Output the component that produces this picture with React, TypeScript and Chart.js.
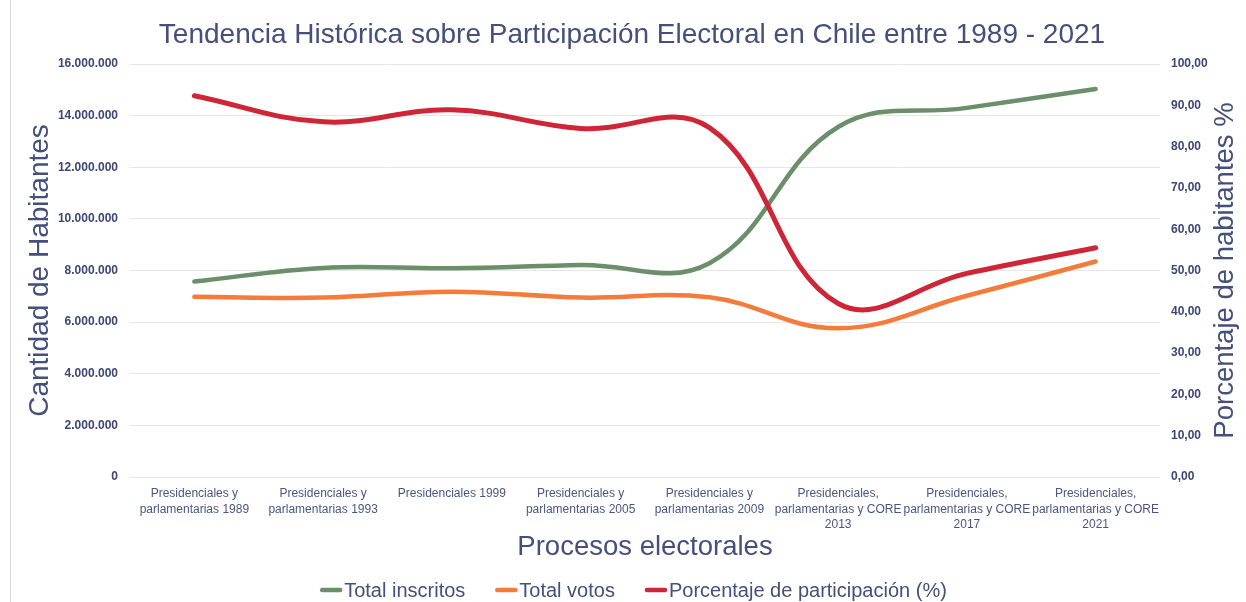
import React, { useEffect, useRef } from 'react';
import { Chart, registerables } from 'chart.js';

Chart.register(...registerables);

const categories: (string | string[])[] = [
  ['Presidenciales y', 'parlamentarias 1989'],
  ['Presidenciales y', 'parlamentarias 1993'],
  'Presidenciales 1999',
  ['Presidenciales y', 'parlamentarias 2005'],
  ['Presidenciales y', 'parlamentarias 2009'],
  ['Presidenciales,', 'parlamentarias y CORE', '2013'],
  ['Presidenciales,', 'parlamentarias y CORE', '2017'],
  ['Presidenciales,', 'parlamentarias y CORE', '2021'],
];

const totalInscritos = [7570000, 8100000, 8085000, 8215000, 8285000, 13560000, 14300000, 15030000];
const totalVotos = [6980000, 6950000, 7180000, 6950000, 6960000, 5760000, 7020000, 8350000];
const porcentajeParticipacion = [92.3, 86.0, 88.9, 84.4, 84.6, 42.0, 49.3, 55.5];

const leftAxisMin = 0;
const leftAxisMax = 16000000;
const leftAxisStep = 2000000;
const rightAxisMin = 0;
const rightAxisMax = 100;
const rightAxisStep = 10;

const seriesLabels = ['Total inscritos', 'Total votos', 'Porcentaje de participación (%)'];
const seriesColors = ['#6b8e6b', '#f47b3a', '#cf2637'];

const chartTitle = 'Tendencia Histórica sobre Participación Electoral en Chile entre 1989 - 2021';
const leftTitle = 'Cantidad de Habitantes';
const rightTitle = 'Porcentaje de habitantes %';
const xTitle = 'Procesos electorales';

const FONT = '"Liberation Sans", Arial, Helvetica, sans-serif';
const TEXT = '#444f7c';
const TICK = '#3d4677';

const fmtThousands = (v: number) => String(Math.round(v)).replace(/\B(?=(\d{3})+(?!\d))/g, '.');
const fmtPct = (v: number) => v.toFixed(2).replace('.', ',');

const rightTitlePlugin = {
  id: 'rightTitle',
  afterDraw(chart: any) {
    const { ctx, chartArea } = chart;
    ctx.save();
    ctx.translate(1225, (chartArea.top + chartArea.bottom) / 2);
    ctx.rotate(-Math.PI / 2);
    ctx.font = `27.5px ${FONT}`;
    ctx.fillStyle = TEXT;
    ctx.textAlign = 'center';
    ctx.textBaseline = 'middle';
    ctx.fillText(rightTitle, 0, 0);
    ctx.restore();
  },
};

const legendPlugin = {
  id: 'customLegend',
  afterDraw(chart: any) {
    const { ctx } = chart;
    ctx.save();
    ctx.font = `20px ${FONT}`;
    const markerW = 22;
    const gap = 2;
    const spacing = 30;
    const items = chart.data.datasets.map((ds: any) => ({ text: ds.label, color: ds.borderColor }));
    const widths = items.map((it: any) => markerW + gap + ctx.measureText(it.text).width);
    const total = widths.reduce((a: number, b: number) => a + b, 0) + spacing * (items.length - 1);
    let x = 633.5 - total / 2;
    const y = 590;
    items.forEach((it: any, i: number) => {
      ctx.strokeStyle = it.color;
      ctx.lineWidth = 4.5;
      ctx.lineCap = 'round';
      ctx.beginPath();
      ctx.moveTo(x + 2, y);
      ctx.lineTo(x + markerW - 2, y);
      ctx.stroke();
      ctx.fillStyle = TEXT;
      ctx.textAlign = 'left';
      ctx.textBaseline = 'middle';
      ctx.fillText(it.text, x + markerW + gap, y + 1);
      x += widths[i] + spacing;
    });
    ctx.restore();
  },
};

export default function App() {
  const canvasRef = useRef<HTMLCanvasElement | null>(null);

  useEffect(() => {
    if (!canvasRef.current) return;
    const chart = new Chart(canvasRef.current, {
      type: 'line',
      data: {
        labels: categories,
        datasets: [
          {
            label: seriesLabels[0],
            data: totalInscritos,
            borderColor: seriesColors[0],
            backgroundColor: seriesColors[0],
            borderWidth: 4.5,
            yAxisID: 'y',
            tension: 0.4,
            pointRadius: 0,
            borderCapStyle: 'round',
            order: 3,
          },
          {
            label: seriesLabels[1],
            data: totalVotos,
            borderColor: seriesColors[1],
            backgroundColor: seriesColors[1],
            borderWidth: 4.5,
            yAxisID: 'y',
            tension: 0.4,
            pointRadius: 0,
            borderCapStyle: 'round',
            order: 2,
          },
          {
            label: seriesLabels[2],
            data: porcentajeParticipacion,
            borderColor: seriesColors[2],
            backgroundColor: seriesColors[2],
            borderWidth: 5,
            yAxisID: 'y1',
            tension: 0.4,
            pointRadius: 0,
            borderCapStyle: 'round',
            order: 1,
          },
        ],
      },
      options: {
        responsive: false,
        animation: false,
        layout: { padding: { left: 18, right: 0, top: 0, bottom: 30 } },
        plugins: {
          legend: { display: false },
          tooltip: { enabled: false },
          title: {
            display: true,
            text: chartTitle,
            color: TEXT,
            font: { family: FONT, size: 28, weight: 'normal' },
            padding: { top: 18, bottom: 12.4 },
          },
        },
        scales: {
          x: {
            offset: true,
            grid: { display: false, drawTicks: false },
            border: { display: false },
            ticks: {
              autoSkip: false,
              maxRotation: 0,
              minRotation: 0,
              padding: 9,
              color: '#4b5583',
              font: { family: FONT, size: 12, lineHeight: 1.3 },
            },
            title: {
              display: true,
              text: xTitle,
              color: TEXT,
              font: { family: FONT, size: 27.5, weight: 'normal' },
              padding: { top: 0, bottom: 8.5 },
            },
            afterFit: (scale: any) => {
              scale.height = 95;
            },
          },
          y: {
            position: 'left',
            min: leftAxisMin,
            max: leftAxisMax,
            grid: { color: '#e6e6e6', lineWidth: 1, drawTicks: false },
            border: { display: false },
            ticks: {
              stepSize: leftAxisStep,
              padding: 12,
              color: TICK,
              font: { family: FONT, size: 12, weight: 'bold' },
              callback: (v: any) => fmtThousands(Number(v)),
            },
            title: {
              display: true,
              text: leftTitle,
              color: TEXT,
              font: { family: FONT, size: 28, weight: 'normal' },
              padding: { top: 5.2, bottom: 0 },
            },
            afterFit: (scale: any) => {
              scale.width = 112;
            },
          },
          y1: {
            position: 'right',
            min: rightAxisMin,
            max: rightAxisMax,
            grid: { display: false, drawTicks: false },
            border: { display: false },
            ticks: {
              stepSize: rightAxisStep,
              padding: 11,
              color: TICK,
              font: { family: FONT, size: 12, weight: 'bold' },
              callback: (v: any) => fmtPct(Number(v)),
            },
            afterFit: (scale: any) => {
              scale.width = 86;
            },
          },
        },
      },
      plugins: [rightTitlePlugin, legendPlugin],
    } as any);
    return () => chart.destroy();
  }, []);

  return (
    <div style={{ position: 'absolute', left: 0, top: 0, width: 1246, height: 602, background: '#fff', overflow: 'hidden' }}>
      <div style={{ position: 'absolute', left: 10, top: 0, width: 1, height: 602, background: '#d9d9d9' }} />
      <canvas ref={canvasRef} width={1246} height={602} style={{ display: 'block' }} />
    </div>
  );
}
